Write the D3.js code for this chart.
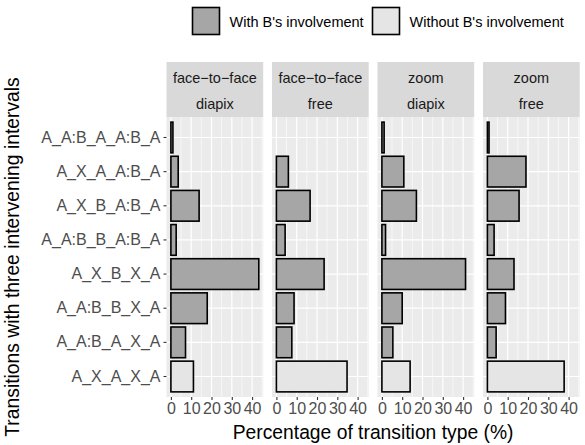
<!DOCTYPE html>
<html>
<head>
<meta charset="utf-8">
<script src="https://cdn.jsdelivr.net/npm/d3@7"></script>
<style>
  body { margin: 0; background: #fff; }
  text { font-family: "Liberation Sans", Arial, sans-serif; }
</style>
</head>
<body>
<div id="chart"></div>
<script>
// transitions, top to bottom
const categories = ["A_A:B_A_A:B_A", "A_X_A_A:B_A", "A_X_B_A:B_A", "A_A:B_B_A:B_A",
  "A_X_B_X_A", "A_A:B_B_X_A", "A_A:B_A_X_A", "A_X_A_X_A"];
const involvement = ["with", "with", "with", "with", "with", "with", "with", "without"];

const modality = ["face\u2212to\u2212face", "face\u2212to\u2212face", "zoom", "zoom"];
const task = ["diapix", "free", "diapix", "free"];

const faceDiapix = [1.0, 3.6, 13.9, 2.6, 43.3, 17.9, 7.2, 11.1];
const faceFree   = [0,   5.9, 16.6, 4.3, 23.5, 8.7, 7.6, 34.8];
const zoomDiapix = [1.1, 10.8, 17.0, 1.8, 41.2, 10.0, 5.4, 13.9];
const zoomFree   = [0.8, 19.0, 15.6, 3.3, 13.1, 8.9, 4.3, 37.8];

const xTicks = [0, 10, 20, 30, 40];
const legendLabels = ["With B's involvement", "Without B's involvement"];

const panelValues = [faceDiapix, faceFree, zoomDiapix, zoomFree];

const width = 585, height = 445;
const panelLeft = 166.5, panelW = 96.7, gap = 8.8;
const stripTop = 62, panelTop = 117, panelBottom = 397;

const fill = d3.scaleOrdinal().domain(["with", "without"]).range(["#A6A6A6", "#E5E5E5"]);

const svg = d3.select("#chart").append("svg")
  .attr("width", width).attr("height", height);

const maxV = d3.max(panelValues.flat());
const x0 = d3.scaleLinear().domain([-0.05 * maxV, 1.05 * maxV]).range([0, panelW]);

const y = d3.scaleBand()
  .domain(categories)
  .range([panelTop, panelBottom])
  .paddingInner(0.1)
  .paddingOuter(0.15);

const minor = [5, 15, 25, 35, 45];

panelValues.forEach((vals, p) => {
  const left = panelLeft + p * (panelW + gap);
  const x = x0.copy().range([left, left + panelW]);
  const g = svg.append("g");

  // panel background
  g.append("rect").attr("x", left).attr("y", panelTop)
    .attr("width", panelW).attr("height", panelBottom - panelTop)
    .attr("fill", "#EBEBEB");

  g.selectAll(".minor").data(minor.filter(v => x(v) <= left + panelW)).join("line")
    .attr("x1", d => x(d)).attr("x2", d => x(d))
    .attr("y1", panelTop).attr("y2", panelBottom)
    .attr("stroke", "#fff").attr("stroke-width", 0.6);

  g.selectAll(".major").data(xTicks).join("line")
    .attr("x1", d => x(d)).attr("x2", d => x(d))
    .attr("y1", panelTop).attr("y2", panelBottom)
    .attr("stroke", "#fff").attr("stroke-width", 1.2);

  g.selectAll(".hgrid").data(categories).join("line")
    .attr("x1", left).attr("x2", left + panelW)
    .attr("y1", d => y(d) + y.bandwidth() / 2).attr("y2", d => y(d) + y.bandwidth() / 2)
    .attr("stroke", "#fff").attr("stroke-width", 1.2);

  // bars
  g.selectAll(".bar").data(categories.map((c, i) => ({ c, v: vals[i], k: involvement[i] })).filter(d => d.v > 0))
    .join("rect")
    .attr("x", x(0))
    .attr("y", d => y(d.c))
    .attr("width", d => x(d.v) - x(0))
    .attr("height", y.bandwidth())
    .attr("fill", d => fill(d.k))
    .attr("stroke", "#000")
    .attr("stroke-width", 1.6);

  // strip
  g.append("rect").attr("x", left).attr("y", stripTop)
    .attr("width", panelW).attr("height", panelTop - stripTop)
    .attr("fill", "#D9D9D9");
  g.append("text").attr("x", left + panelW / 2).attr("y", 83)
    .attr("text-anchor", "middle").attr("font-size", 14.5).attr("fill", "#1A1A1A")
    .text(modality[p]);
  g.append("text").attr("x", left + panelW / 2).attr("y", 109)
    .attr("text-anchor", "middle").attr("font-size", 14.5).attr("fill", "#1A1A1A")
    .text(task[p]);

  // x axis
  const ax = g.append("g")
    .attr("transform", `translate(0,${panelBottom})`)
    .call(d3.axisBottom(x).tickValues(xTicks).tickSize(3).tickPadding(3));
  ax.select(".domain").remove();
  ax.selectAll(".tick line").attr("stroke", "#333").attr("stroke-width", 1.1);
  ax.selectAll(".tick text").attr("fill", "#4D4D4D").attr("font-size", 16)
    .attr("font-family", "Liberation Sans, Arial, sans-serif");
});

// y axis
const ay = svg.append("g")
  .attr("transform", `translate(${panelLeft},0)`)
  .call(d3.axisLeft(y).tickSize(3).tickPadding(3));
ay.select(".domain").remove();
ay.selectAll(".tick line").attr("stroke", "#333").attr("stroke-width", 1.1);
ay.selectAll(".tick text").attr("fill", "#4D4D4D").attr("font-size", 16)
  .attr("font-family", "Liberation Sans, Arial, sans-serif");

// axis titles
const panelsRight = panelLeft + 4 * panelW + 3 * gap;
svg.append("text")
  .attr("x", (panelLeft + panelsRight) / 2).attr("y", 439)
  .attr("text-anchor", "middle").attr("font-size", 19.3).attr("fill", "#000")
  .text("Percentage of transition type (%)");
svg.append("text")
  .attr("transform", `translate(19,${(panelTop + panelBottom) / 2}) rotate(-90)`)
  .attr("text-anchor", "middle").attr("font-size", 19.3).attr("fill", "#000")
  .text("Transitions with three intervening intervals");

// legend
const legendX = [192.5, 372.5];
const lg = svg.append("g");
legendLabels.forEach((lab, i) => {
  lg.append("rect").attr("x", legendX[i]).attr("y", 7.5)
    .attr("width", 27).attr("height", 27)
    .attr("fill", fill(["with", "without"][i])).attr("stroke", "#000").attr("stroke-width", 1.6);
  lg.append("text").attr("x", legendX[i] + 37).attr("y", 26.5)
    .attr("font-size", 14.5).attr("fill", "#000").text(lab);
});
</script>
</body>
</html>
